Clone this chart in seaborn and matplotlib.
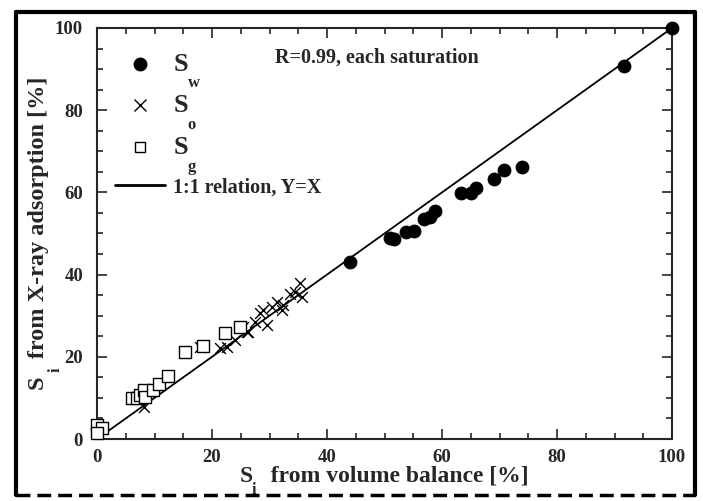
import numpy as np
import pandas as pd
import seaborn as sns
import matplotlib.pyplot as plt
from matplotlib.lines import Line2D
from matplotlib.ticker import MultipleLocator

# S_w (water) - volume balance vs X-ray
sw_x = [44.0, 51.0, 51.6, 53.7, 55.2, 56.9, 57.9, 58.7, 63.3, 65.0, 65.9, 69.0, 70.8, 73.9, 91.6, 100.0]
sw_y = [43.0, 48.9, 48.7, 50.4, 50.7, 53.5, 54.1, 55.5, 59.8, 59.9, 61.0, 63.3, 65.4, 66.3, 90.8, 100.0]
# S_o (oil)
so_x = [8.1, 17.9, 21.4, 22.6, 24.0, 25.4, 26.0, 26.3, 27.5, 28.3, 28.9, 29.5, 30.4, 31.3, 32.1, 32.4, 33.6, 34.4, 35.3, 35.6]
so_y = [7.9, 22.5, 22.1, 22.5, 24.0, 27.3, 26.0, 26.1, 28.5, 30.6, 31.4, 27.7, 32.2, 33.4, 31.4, 32.6, 35.4, 35.8, 37.9, 34.6]
# S_g (gas)
sg_x = [0.0, 0.8, 0.0, 6.0, 6.9, 7.5, 8.1, 8.3, 9.8, 10.7, 12.4, 15.3, 18.5, 22.3, 24.9]
sg_y = [3.4, 2.6, 1.5, 9.9, 9.9, 10.7, 11.9, 10.3, 11.9, 13.5, 15.3, 21.2, 22.6, 25.9, 27.2]

one_to_one = [0, 100]

sns.set_style('ticks')
plt.rcParams['font.family'] = ['Liberation Serif', 'DejaVu Serif']
plt.rcParams['font.weight'] = 'bold'

fig = plt.figure(figsize=(7.03, 5.01), dpi=100)
ax = fig.add_axes([97 / 703, 1 - 439 / 501, 575 / 703, 411 / 501])

sns.lineplot(x=one_to_one, y=one_to_one, color='black', linewidth=1.3, ax=ax)
sns.scatterplot(x=sw_x, y=sw_y, marker='o', s=85, color='black', edgecolor='black',
                ax=ax, zorder=3, clip_on=False)
sns.scatterplot(x=so_x, y=so_y, marker='x', s=60, color='black', linewidth=1.0, ax=ax, zorder=3)
sns.scatterplot(x=sg_x, y=sg_y, marker='s', s=85, facecolor='white', edgecolor='black',
                linewidth=1.0, ax=ax, zorder=4, clip_on=False)

ax.set_xlim(0, 100)
ax.set_ylim(0, 100)
ax.xaxis.set_major_locator(MultipleLocator(20))
ax.yaxis.set_major_locator(MultipleLocator(20))
ax.xaxis.set_minor_locator(MultipleLocator(5))
ax.yaxis.set_minor_locator(MultipleLocator(5))
ax.tick_params(which='both', direction='in', top=True, right=True, width=1.2)
ax.tick_params(which='major', length=7, labelsize=13.5)
ax.tick_params(axis='x', which='major', pad=7)
ax.tick_params(axis='y', which='major', pad=10)
ax.tick_params(which='minor', length=4)
for lab in ax.get_xticklabels() + ax.get_yticklabels():
    lab.set_fontweight('bold')
for sp in ax.spines.values():
    sp.set_linewidth(1.5)

# axis labels with a dropped subscript "i" under the S
ax.set_xlabel('S   from volume balance [%]', fontsize=17, fontweight='bold')
ax.set_ylabel('S   from X-ray adsorption [%]', fontsize=17.5, fontweight='bold')
ax.xaxis.set_label_coords(0.5, -0.064)
ax.yaxis.set_label_coords(-0.083, 0.5)
ax.annotate('i', xy=(0, 0), xycoords=ax.xaxis.label, xytext=(10, 3),
            textcoords='offset points', ha='center', va='top', fontsize=11.5,
            fontweight='bold', zorder=6)
ax.annotate('i', xy=(1, 0), xycoords=ax.yaxis.label, xytext=(-1, 15),
            textcoords='offset points', ha='left', va='center', rotation=90,
            fontsize=11.5, fontweight='bold', zorder=6)

ax.text(0.31, 0.927, 'R=0.99, each saturation', transform=ax.transAxes,
        fontsize=14.5, fontweight='bold', ha='left', va='center')

handles = [
    Line2D([], [], marker='o', linestyle='none', color='black', markersize=9),
    Line2D([], [], marker='x', linestyle='none', color='black', markersize=8, markeredgewidth=1.0),
    Line2D([], [], marker='s', linestyle='none', markerfacecolor='white', markeredgecolor='black',
           markersize=7, markeredgewidth=1.0),
    Line2D([], [], color='black', linewidth=2),
]
labels = ['S', 'S', 'S', '1:1 relation, Y=X']
subs = ['w', 'o', 'g']
leg = ax.legend(handles, labels, loc='upper left', bbox_to_anchor=(0.031, 0.94), frameon=False,
                prop={'family': 'Liberation Serif', 'weight': 'bold', 'size': 14.5},
                handlelength=2.5, handletextpad=0.4, labelspacing=0.92,
                borderaxespad=0, borderpad=0)
for t in leg.get_texts()[:3]:
    t.set_fontsize(19)

# outer frame of the figure
fig.add_artist(Line2D([16 / 703, 695 / 703], [1 - 12 / 501, 1 - 12 / 501],
                      transform=fig.transFigure, color='black', linewidth=3))
fig.add_artist(Line2D([16 / 703, 16 / 703], [1 - 12 / 501, 1 - 495 / 501],
                      transform=fig.transFigure, color='black', linewidth=3))
fig.add_artist(Line2D([695 / 703, 695 / 703], [1 - 12 / 501, 1 - 495 / 501],
                      transform=fig.transFigure, color='black', linewidth=3))
fig.add_artist(Line2D([16 / 703, 695 / 703], [1 - 495 / 501, 1 - 495 / 501],
                      transform=fig.transFigure, color='black', linewidth=2.5, linestyle=(0, (4, 2))))

# legend text positions are fixed on the first draw, then the subscripts hang off them
fig.canvas.draw()
for t, sub in zip(leg.get_texts()[:3], subs):
    ax.annotate(sub, xy=(1, 0), xycoords=t, xytext=(0, -8.5), textcoords='offset points',
                ha='left', va='baseline', fontsize=12, fontweight='bold', zorder=6)

fig.savefig('out.png', dpi=100)
